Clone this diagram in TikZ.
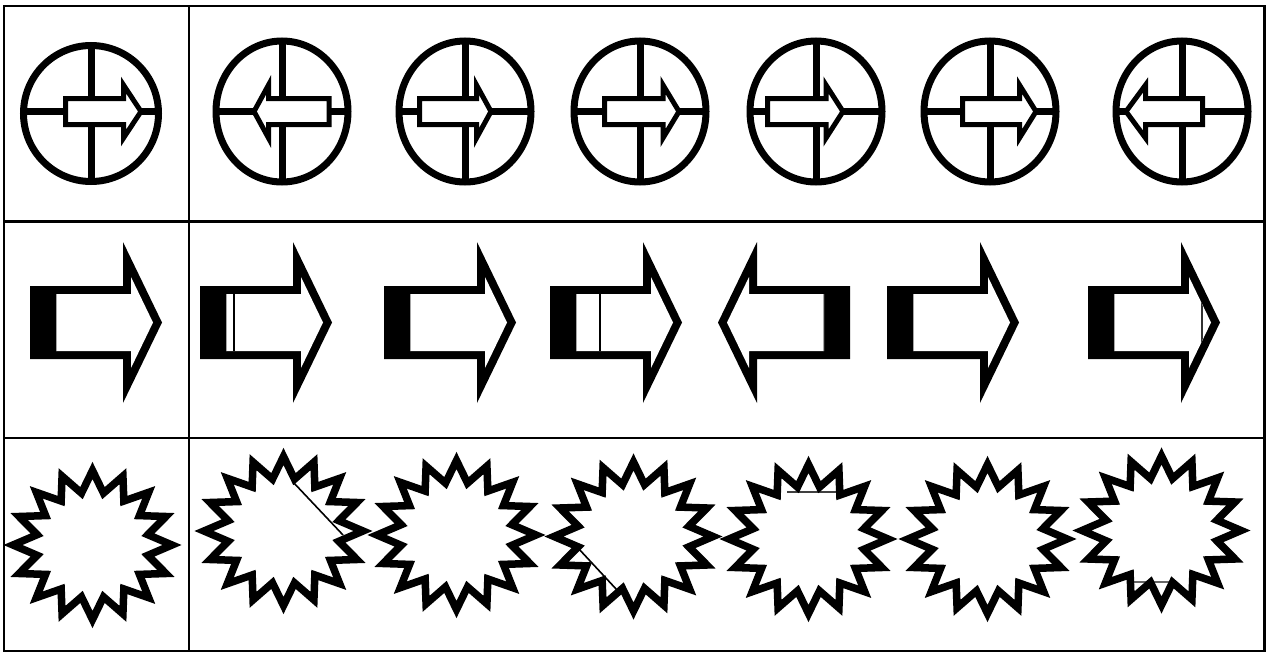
\documentclass[tikz,border=0pt]{standalone}
\tikzset{
  grid/.style={line width=2.4pt, draw=black},
  ring/.style={line width=7pt},
  crossline/.style={line width=7pt},
  smallarrow/.style={line width=5pt, fill=white, line join=miter, miter limit=10},
  burst/.style={line width=7.5pt, line join=miter, miter limit=10},
  thinline/.style={line width=1.6pt},
  aaline/.style={line width=1pt, draw=black!35},
}
% cx, rx, ry, cy, tail x, head-back x, tip x
\newcommand\dialsym[7]{%
  \draw[ring] (#1,#4) ellipse [x radius=#2, y radius=#3];
  \draw[crossline] (#1,#4-#3) -- (#1,#4+#3);
  \draw[crossline] (#1-#2,111.5) -- (#1+#2,111.5);
  \draw[smallarrow] (#5,98.5) -- (#6,98.5) -- (#6,85) -- (#7,111.5) -- (#6,138) -- (#6,124.5) -- (#5,124.5) -- cycle;
}
\newcommand\bigouter{(0,286) -- (93,286) -- (93,242) -- (132,322.5) -- (93,403) -- (93,359) -- (0,359) -- cycle}
\newcommand\biginner{(26,294) -- (101,294) -- (101,277) -- (123,322.5) -- (101,368) -- (101,351) -- (26,351) -- cycle}
\newcommand\bigarrowbody{%
  \fill \bigouter;
  \fill[white] \biginner;
  \draw[aaline] (26.5,294) -- (26.5,351);
}
\newcommand\starburst[2]{%
  \draw[burst] (#1+79.5,#2) \foreach \k in {1,...,31}{ -- ({#1+79.5*(0.855+0.145*cos(\k*180))*cos(\k*11.25)}, {#2+74.5*(0.855+0.145*cos(\k*180))*sin(\k*11.25)}) } -- cycle;
}
\begin{document}
\begin{tikzpicture}[x=1pt,y=-1pt]
\useasboundingbox (0,0) rectangle (1269,653);
\fill[white] (0,0) rectangle (1269,653);

% table
\coordinate (tl) at (4,6);
\coordinate (br) at (1264.5,651);
\draw[grid] (tl) rectangle (br);
\draw[grid] (189,6) -- (189,651);
\draw[grid] (4,221.5) -- (1264.5,221.5);
\draw[grid] (4,438) -- (1264.5,438);

% row 1: dials
\dialsym{91}{67.5}{68}{113.5}{65.5}{123.5}{141}
\dialsym{282}{66}{70.5}{111.5}{329}{268.5}{254}
\dialsym{465}{66}{70.5}{111.5}{419.5}{476.5}{491}
\dialsym{640}{66}{70.5}{111.5}{604.5}{663}{679}
\dialsym{816}{66}{70.5}{111.5}{767.5}{826}{843}
\dialsym{990}{66}{70.5}{111.5}{962.5}{1019.5}{1036}
\dialsym{1182}{66}{70.5}{111.5}{1202.5}{1145.5}{1126}

% row 2: big arrows
\begin{scope}[shift={(30,0)}]\bigarrowbody\end{scope}
\begin{scope}[shift={(200,0)}]\bigarrowbody
  \draw[thinline] (34,294) -- (34,351);\end{scope}
\begin{scope}[shift={(384,0)}]\bigarrowbody\end{scope}
\begin{scope}[shift={(550,0)}]\bigarrowbody
  \draw[thinline] (50,294) -- (50,351);\end{scope}
\begin{scope}[shift={(850,0)}, xscale=-1]\bigarrowbody\end{scope}
\begin{scope}[shift={(887,0)}]\bigarrowbody\end{scope}
\begin{scope}[shift={(1088,0)}]\bigarrowbody
  \begin{scope}\clip \biginner; \draw[thinline, draw=black!80] (114,280) -- (114,365);\end{scope}
\end{scope}

% row 3: starbursts
\draw[thinline] (293,482) -- (343,535);
\draw[thinline] (578,548) -- (617,590);
\draw[thinline, draw=black!75] (787,492) -- (838,492);
\draw[thinline, draw=black!60] (1133,582) -- (1170,582);
\starburst{92.5}{545}
\starburst{283.5}{531}
\starburst{456.5}{535}
\starburst{633.5}{536.5}
\starburst{808.5}{539}
\starburst{987.5}{539}
\starburst{1161.5}{530.5}
\end{tikzpicture}
\end{document}
